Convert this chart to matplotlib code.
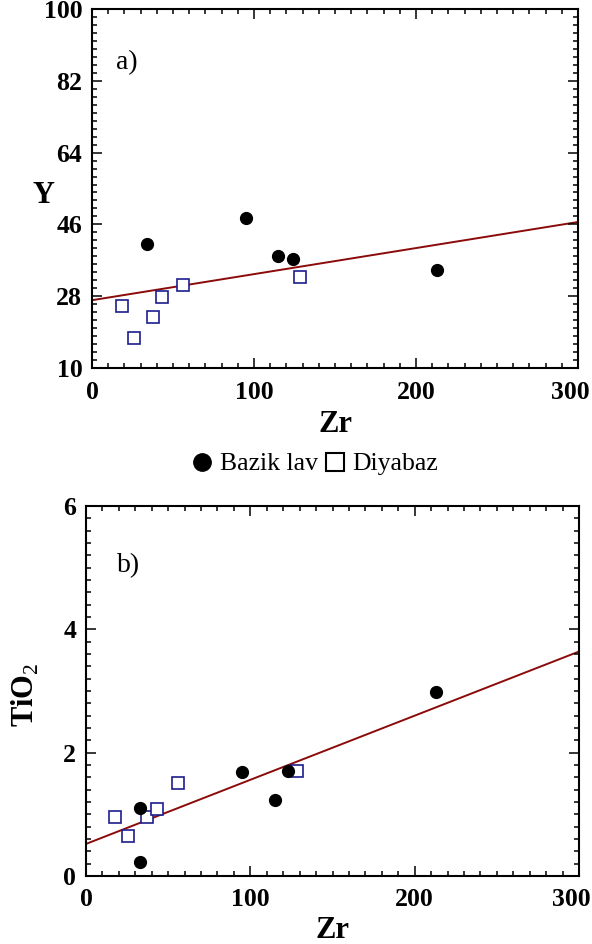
import matplotlib
matplotlib.use("Agg")
import matplotlib.pyplot as plt
from matplotlib.ticker import MultipleLocator
from matplotlib.lines import Line2D
from matplotlib.transforms import ScaledTranslation

plt.rcParams["font.family"] = "serif"
plt.rcParams["font.serif"] = ["Liberation Serif", "DejaVu Serif"]
plt.rcParams["mathtext.fontset"] = "custom"
plt.rcParams["mathtext.rm"] = "Liberation Serif"
plt.rcParams["mathtext.bf"] = "Liberation Serif:bold"

# Bazik lav (dolu daire)
lav_zr = [34, 95, 115, 124, 213]
lav_y = [41, 47.5, 38, 37.3, 34.5]
lav_zr_b = [33, 33, 95, 115, 123, 213]
lav_ti = [1.10, 0.22, 1.68, 1.23, 1.70, 2.98]

# Diyabaz (bos kare)
diy_zr = [18.5, 26, 37.7, 43, 56, 128.4]
diy_y = [25.5, 17.5, 22.8, 27.8, 30.8, 32.8]
diy_zr_b = [17.8, 25.4, 37.3, 43, 55.8, 128.6]
diy_ti = [0.96, 0.65, 0.95, 1.09, 1.51, 1.70]

# regresyon dogrulari (uc noktalar)
fit_x = [0, 300]
fit_y = [27.0, 46.6]
fit_ti = [0.52, 3.64]

x_ticks = [0, 100, 200, 300]
y_ticks = [10, 28, 46, 64, 82, 100]
ti_ticks = [0, 2, 4, 6]

W, H = 592, 944
fig = plt.figure(figsize=(W / 100, H / 100), dpi=100)
ax1 = fig.add_axes([92 / W, 1 - 368 / H, 486 / W, 359 / H])
ax2 = fig.add_axes([86 / W, 1 - 876 / H, 493 / W, 370 / H])

navy = "#1c1c8e"
red = "#8b0a0a"


def style(ax):
    for s in ax.spines.values():
        s.set_linewidth(1.5)
    ax.tick_params(which="both", direction="in", top=True, right=True, width=1.1)
    ax.tick_params(which="major", length=7, labelsize=18.5)
    ax.tick_params(axis="x", which="major", pad=9)
    ax.tick_params(axis="y", which="major", pad=7)
    ax.tick_params(which="minor", length=3.5)
    ax.xaxis.set_minor_locator(MultipleLocator(10))
    ax.set_xticks(x_ticks)
    ax.set_xticklabels([str(t) for t in x_ticks], fontweight="bold")


# a) Zr - Y
ax1.plot(fit_x, fit_y, color=red, lw=1.4, zorder=1)
ax1.plot(lav_zr, lav_y, "o", color="black", ms=8.5, zorder=3)
ax1.plot(diy_zr, diy_y, "s", mfc="white", mec=navy, mew=1.2, ms=8.5, zorder=2)
ax1.set_xlim(0, 300)
ax1.set_ylim(10, 100)
ax1.yaxis.set_minor_locator(MultipleLocator(2))
style(ax1)
ax1.set_yticks(y_ticks)
ax1.set_yticklabels([str(t) for t in y_ticks], fontweight="bold")
ax1.set_xlabel("Zr", fontsize=22, fontweight="bold", va="center")
ax1.xaxis.set_label_coords(0.5, -0.156)
ax1.set_ylabel("Y", fontsize=22, fontweight="bold", rotation=0, va="center", ha="center")
ax1.yaxis.set_label_coords(-0.10, 0.48)
ax1.text(0.05, 0.85, "a)", transform=ax1.transAxes, fontsize=20, va="center")

# b) Zr - TiO2
ax2.plot(fit_x, fit_ti, color=red, lw=1.4, zorder=1)
ax2.plot(lav_zr_b, lav_ti, "o", color="black", ms=8.5, zorder=3)
ax2.plot(diy_zr_b, diy_ti, "s", mfc="white", mec=navy, mew=1.2, ms=8.5, zorder=2)
ax2.set_xlim(0, 300)
ax2.set_ylim(0, 6)
ax2.yaxis.set_minor_locator(MultipleLocator(0.2))
style(ax2)
ax2.set_yticks(ti_ticks)
ax2.set_yticklabels([str(t) for t in ti_ticks], fontweight="bold")
ax2.set_xlabel("Zr", fontsize=22, fontweight="bold", va="center")
ax2.xaxis.set_label_coords(0.5, -0.146)
ax2.set_ylabel(r"TiO$_2$", fontsize=22, fontweight="bold", va="center", ha="center")
ax2.yaxis.set_label_coords(-0.122, 0.49)
ax2.text(0.063, 0.84, "b)", transform=ax2.transAxes, fontsize=20, va="center")

# son etiket (300) sayfa kenarina sigsin diye biraz sola
shift = ScaledTranslation(-8 / 100, 0, fig.dpi_scale_trans)
for ax in (ax1, ax2):
    lab = ax.get_xticklabels()[-1]
    lab.set_transform(lab.get_transform() + shift)

handles = [
    Line2D([], [], ls="", marker="o", color="black", ms=12.5),
    Line2D([], [], ls="", marker="s", mfc="white", mec="black", mew=1.5, ms=12.5),
]
fig.legend(handles, ["Bazik lav", "Diyabaz"], loc="center", bbox_to_anchor=(313 / W, 1 - 464 / H),
           ncol=2, frameon=False, fontsize=18.5, handletextpad=0.15, columnspacing=0.1,
           handlelength=1.1, borderpad=0)

fig.savefig("out.png", dpi=100)
